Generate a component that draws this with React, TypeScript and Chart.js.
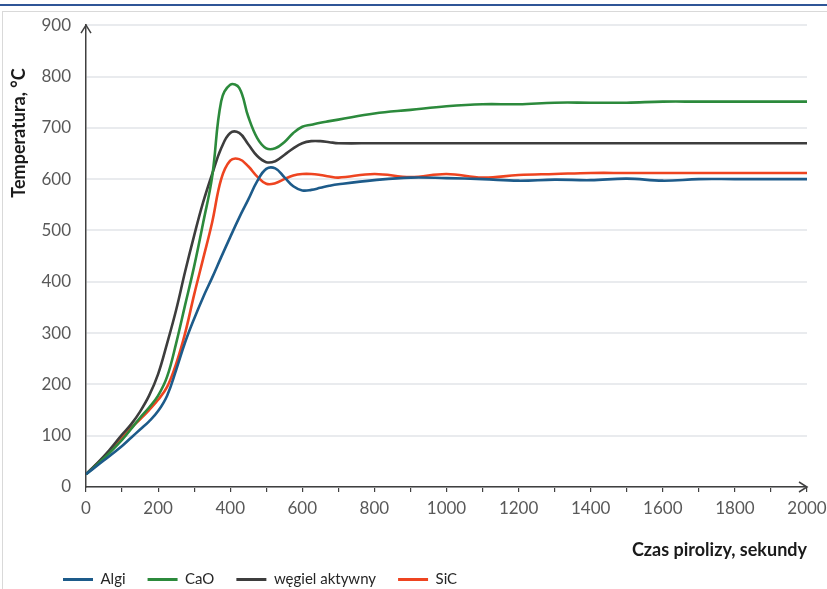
import React, { useEffect, useRef } from 'react';
import { Chart, registerables } from 'chart.js';

Chart.register(...registerables);

const timeSeconds = [0, 50, 100, 125, 150, 175, 200, 225, 250, 275, 300, 325, 350, 375, 400, 425, 450, 475, 500, 525, 550, 575, 600, 625, 650, 675, 700, 800, 900, 1000, 1100, 1200, 1300, 1400, 1500, 1600, 1700, 1800, 1900, 2000];

const algiTemp = [25, 52, 80, 96, 112, 128, 148, 178, 228, 282, 328, 370, 408, 448, 487, 525, 560, 596, 620, 621, 604, 586, 578, 579, 583, 587, 590, 598, 603, 602, 600, 597, 599, 598, 601, 597, 600, 600, 600, 600];
const caoTemp = [25, 56, 92, 113, 135, 155, 178, 215, 280, 355, 430, 515, 605, 752, 784, 778, 722, 680, 660, 660, 672, 690, 702, 706, 710, 713, 716, 728, 735, 742, 746, 746, 749, 749, 749, 751, 751, 751, 751, 751];
const wegielTemp = [25, 60, 102, 122, 147, 178, 220, 280, 345, 420, 490, 555, 610, 660, 690, 690, 668, 645, 633, 635, 647, 660, 670, 674, 674, 672, 670, 670, 670, 670, 670, 670, 670, 670, 670, 670, 670, 670, 670, 670];
const sicTemp = [25, 58, 95, 115, 132, 150, 170, 195, 240, 300, 375, 445, 516, 600, 636, 639, 625, 605, 591, 592, 600, 607, 610, 610, 608, 605, 603, 610, 604, 610, 603, 608, 610, 612, 612, 612, 612, 612, 612, 612];

const seriesNames = ['Algi', 'CaO', 'węgiel aktywny', 'SiC'];
const seriesColors = ['#1d5b8a', '#2c8a3c', '#3d3d3d', '#ee4420'];
const xTitle = 'Czas pirolizy, sekundy';
const yTitle = 'Temperatura, \u00B0C';

const FONT = 'Lato, "Open Sans", sans-serif';

const toPoints = (ys: number[]) => ys.map((y, i) => ({ x: timeSeconds[i], y }));

const axisDecor = {
  id: 'axisDecor',
  afterDraw(chart: any) {
    const { ctx, chartArea } = chart;
    const { left, right, top, bottom } = chartArea;
    ctx.save();
    ctx.strokeStyle = '#404040';
    ctx.lineWidth = 1.5;
    ctx.beginPath();
    ctx.moveTo(left - 5, top + 8);
    ctx.lineTo(left, top);
    ctx.lineTo(left + 5, top + 8);
    ctx.stroke();
    ctx.beginPath();
    ctx.moveTo(right - 8, bottom - 5);
    ctx.lineTo(right, bottom);
    ctx.lineTo(right - 8, bottom + 5);
    ctx.stroke();
    ctx.fillStyle = '#1a1a1a';
    ctx.font = `bold 18px ${FONT}`;
    ctx.textAlign = 'right';
    ctx.textBaseline = 'middle';
    ctx.fillText(xTitle, right, 550);
    ctx.translate(19, 133);
    ctx.rotate(-Math.PI / 2);
    ctx.textAlign = 'center';
    ctx.fillText(yTitle, 0, 0);
    ctx.restore();
  },
};

export default function App() {
  const ref = useRef<HTMLCanvasElement | null>(null);
  useEffect(() => {
    document.body.style.margin = '0';
    const datasets = [algiTemp, caoTemp, wegielTemp, sicTemp].map((d, i) => ({
      label: seriesNames[i],
      data: toPoints(d),
      borderColor: seriesColors[i],
      backgroundColor: seriesColors[i],
      borderWidth: 2.6,
      pointRadius: 0,
      tension: 0.4,
    }));
    const chart = new Chart(ref.current as HTMLCanvasElement, {
      type: 'line',
      data: { datasets },
      plugins: [axisDecor],
      options: {
        animation: false,
        responsive: false,
        maintainAspectRatio: false,
        layout: { padding: { left: 41, right: 20, top: 22, bottom: -8 } },
        scales: {
          x: {
            type: 'linear',
            min: 0,
            max: 2000,
            afterFit: (s: any) => { s.height = 63; s.paddingRight = 0; s.paddingLeft = 0; },
            ticks: {
              stepSize: 100,
              autoSkip: false,
              maxRotation: 0,
              color: '#595959',
              font: { family: FONT, size: 17 },
              padding: 6,
              callback: (v: any) => (Number(v) % 200 === 0 ? String(v) : ''),
            },
            grid: { drawOnChartArea: false, drawTicks: true, tickLength: 5, color: '#404040', lineWidth: 1.2 },
            border: { display: true, color: '#404040', width: 1.5 },
          },
          y: {
            min: 0,
            max: 900,
            afterFit: (s: any) => { s.width = 45; },
            ticks: {
              stepSize: 100,
              color: '#595959',
              font: { family: FONT, size: 17 },
              padding: 15,
            },
            grid: { color: '#e9ebee', lineWidth: 2, drawTicks: false },
            border: { display: true, color: '#404040', width: 1.5 },
          },
        },
        plugins: {
          legend: {
            position: 'bottom',
            align: 'start',
            labels: {
              boxWidth: 30,
              boxHeight: 3,
              padding: 22,
              color: '#262626',
              font: { family: FONT, size: 15 },
              generateLabels: (c: any) =>
                Chart.defaults.plugins.legend.labels.generateLabels(c).map((l: any) => ({ ...l, lineWidth: 0 })),
            },
          },
          tooltip: { enabled: false },
        },
      },
    } as any);
    return () => chart.destroy();
  }, []);
  return (
    <div style={{ position: 'relative', width: 827, height: 589, overflow: 'hidden', background: '#fff' }}>
      <div style={{ position: 'absolute', left: 0, top: 4, width: 827, height: 2, background: '#2f5597' }} />
      <div style={{ position: 'absolute', left: 2, top: 11, width: 840, height: 600, border: '1px solid #d9d9d9', boxSizing: 'border-box' }} />
      <canvas ref={ref} width={827} height={589} style={{ position: 'absolute', left: 0, top: 0 }} />
    </div>
  );
}
